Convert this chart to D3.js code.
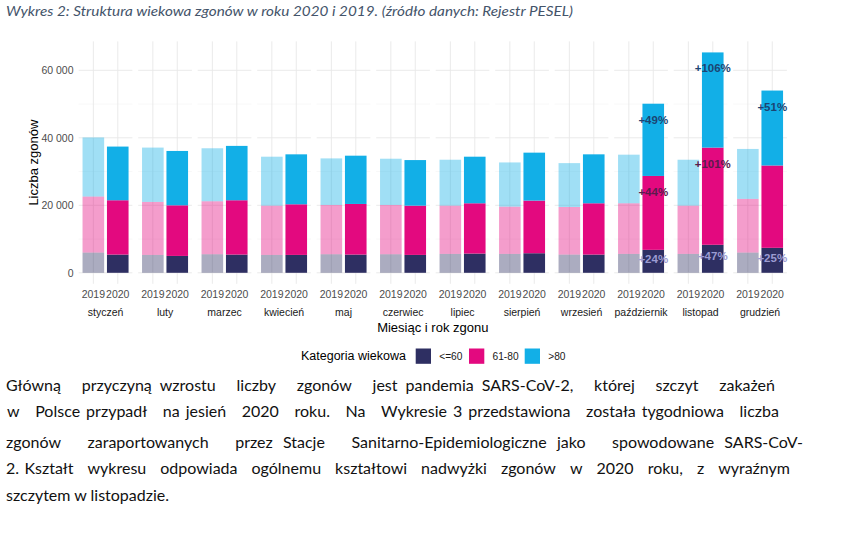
<!DOCTYPE html>
<html><head><meta charset="utf-8">
<script src="https://cdn.jsdelivr.net/npm/d3@7"></script>
<style>
html,body{margin:0;padding:0;background:#fff;}
svg{display:block;}
</style></head>
<body>
<script>
// ---------- DATA ----------
const months = ["styczeń","luty","marzec","kwiecień","maj","czerwiec","lipiec","sierpień","wrzesień","październik","listopad","grudzień"];
const years = ["2019","2020"];
const categories = ["<=60","61-80",">80"];
// deaths per age category
const u60_2019  = [6000,5300,5500,5300,5500,5500,5600,5600,5400,5600,5600,6000];
const m6180_2019= [16600,15700,15700,14600,14600,14600,14300,14000,14100,15000,14300,15900];
const o80_2019  = [17500,16100,15700,14500,13800,13700,13600,13100,13000,14400,13600,14800];
const u60_2020  = [5400,5000,5400,5300,5400,5300,5700,5800,5400,6800,8300,7400];
const m6180_2020= [16100,15000,16100,15000,15000,14600,14900,15600,15200,21900,28800,24400];
const o80_2020  = [15900,16100,16100,14800,14300,13500,13800,14200,14500,21400,28200,22200];
const yTicks = [0,20000,40000,60000];
const yMinor = [10000,30000,50000];
const pctMonths = ["październik","listopad","grudzień"];
const pctCats = [">80","61-80","<=60"];
const pctLabels = [["+49%","+44%","+24%"],["+106%","+101%","+47%"],["+51%","+25%"]];
const pctCatsDec = [">80","<=60"];
const titleText = "Wykres 2: Struktura wiekowa zgonów w roku 2020 i 2019. (źródło danych: Rejestr PESEL)";
const paraLines = [
  ["Główną","przyczyną wzrostu","liczby","zgonów","jest pandemia SARS-CoV-2,","której","szczyt","zakażeń"],
  ["w","Polsce przypadł","na jesień","2020","roku.","Na","Wykresie 3 przedstawiona","została tygodniowa","liczba"],
  ["zgonów","zaraportowanych","przez Stacje","Sanitarno-Epidemiologiczne jako","spowodowane SARS-CoV-"],
  ["2. Kształt","wykresu","odpowiada","ogólnemu","kształtowi","nadwyżki","zgonów","w","2020","roku,","z","wyraźnym"],
  ["szczytem w listopadzie."]
];

// ---------- SETUP ----------
const W=852,H=535;
const svg=d3.select("body").append("svg").attr("width",W).attr("height",H);
const colors = {"<=60":"#2e2f62","61-80":"#e3097f",">80":"#12afe7"};
const labelColors = {"<=60":"#9c9cd2","61-80":"#5a1b4c",">80":"#1b4573"};

const rows=[];
months.forEach((m,i)=>{
  rows.push({month:m,year:"2019","<=60":u60_2019[i],"61-80":m6180_2019[i],">80":o80_2019[i]});
  rows.push({month:m,year:"2020","<=60":u60_2020[i],"61-80":m6180_2020[i],">80":o80_2020[i]});
});
const stacked=d3.stack().keys(categories)(rows);

const y=d3.scaleLinear().domain([0,60000]).range([272.8,70.3]);
const maxTot=d3.max(rows,r=>r["<=60"]+r["61-80"]+r[">80"]);
const yTop=y(maxTot*1.05), yBot=y(-maxTot*0.05);
const xMonth=d3.scaleBand().domain(months).range([78.7,786.9]).paddingInner(0.0975).paddingOuter(0);
const xYear=d3.scalePoint().domain(years).range([0,xMonth.bandwidth()]).padding(0.6);
const barW=xYear.step()*0.885;

// title
svg.append("text").attr("x",6).attr("y",16).attr("font-family","Lato, 'Open Sans', sans-serif")
  .attr("font-style","italic").attr("font-size",13).attr("fill","#44546a")
  .attr("textLength",567).attr("lengthAdjust","spacingAndGlyphs").text(titleText);

// panels
const g=svg.append("g");
months.forEach(m=>{
  const px=xMonth(m), pw=xMonth.bandwidth();
  const pg=g.append("g").attr("transform",`translate(${px},0)`);
  yMinor.forEach(v=>pg.append("line").attr("x1",0).attr("x2",pw).attr("y1",y(v)).attr("y2",y(v)).attr("stroke","#f2f2f2").attr("stroke-width",0.6));
  yTicks.forEach(v=>pg.append("line").attr("x1",0).attr("x2",pw).attr("y1",y(v)).attr("y2",y(v)).attr("stroke","#e8e8e8").attr("stroke-width",0.9));
  years.forEach(yr=>pg.append("line").attr("x1",xYear(yr)).attr("x2",xYear(yr)).attr("y1",yTop).attr("y2",yBot).attr("stroke","#e8e8e8").attr("stroke-width",0.9));
});

// bars
stacked.forEach(layer=>{
  const key=layer.key;
  g.selectAll(null).data(layer).join("rect")
    .attr("x",d=>xMonth(d.data.month)+xYear(d.data.year)-barW/2)
    .attr("width",barW)
    .attr("y",d=>y(d[1]))
    .attr("height",d=>y(d[0])-y(d[1]))
    .attr("fill",colors[key])
    .attr("fill-opacity",d=>d.data.year==="2019"?0.4:1);
});

// percentage labels
const lblData=[];
pctMonths.forEach((m,i)=>{
  const cats = (m==="grudzień")?pctCatsDec:pctCats;
  cats.forEach((c,j)=>lblData.push({month:m,cat:c,text:pctLabels[i][j]}));
});
lblData.forEach(l=>{
  const layer=stacked.find(s=>s.key===l.cat);
  const d=layer.find(e=>e.data.month===l.month&&e.data.year==="2020");
  const ty = l.cat==="<=60" ? (y(d[0])+y(d[1]))/2-2.5 : y(d[1])+16;
  g.append("text").attr("x",xMonth(l.month)+xYear("2020")).attr("y",ty)
    .attr("text-anchor","middle").attr("dominant-baseline","central")
    .attr("font-family","'Liberation Sans', Arial, sans-serif").attr("font-weight","bold")
    .attr("font-size",11.5).attr("fill",labelColors[l.cat]).text(l.text);
});

// y axis
const yAxis=d3.axisLeft(y).tickValues(yTicks).tickSize(0).tickPadding(0)
  .tickFormat(d=>d3.format(",")(d).replace(/,/g," "));
const ya=svg.append("g").attr("transform","translate(73.5,0)").call(yAxis);
ya.select(".domain").remove();
ya.selectAll("text").attr("font-family","'Liberation Sans', Arial, sans-serif").attr("font-size",10.5).attr("fill","#4d4d4d");

// year ticks & month labels
months.forEach(m=>{
  years.forEach(yr=>{
    svg.append("text").attr("x",xMonth(m)+xYear(yr)).attr("y",294).attr("text-anchor","middle")
      .attr("dominant-baseline","central").attr("font-family","'Liberation Sans', Arial, sans-serif")
      .attr("font-size",10.5).attr("fill","#4d4d4d").text(yr);
  });
  svg.append("text").attr("x",xMonth(m)+xMonth.bandwidth()/2).attr("y",311.5).attr("text-anchor","middle")
    .attr("dominant-baseline","central").attr("font-family","'Liberation Sans', Arial, sans-serif")
    .attr("font-size",10.5).attr("fill","#1a1a1a").text(m);
});

// axis titles
svg.append("text").attr("x",(xMonth.range()[0]+xMonth.range()[1])/2).attr("y",327.5).attr("text-anchor","middle")
  .attr("dominant-baseline","central").attr("font-family","'Liberation Sans', Arial, sans-serif")
  .attr("font-size",13).attr("fill","#000").text("Miesiąc i rok zgonu");
svg.append("text").attr("transform",`translate(33,${(yTop+yBot)/2}) rotate(-90)`).attr("text-anchor","middle")
  .attr("dominant-baseline","central").attr("font-family","'Liberation Sans', Arial, sans-serif")
  .attr("font-size",13).attr("fill","#000").text("Liczba zgonów");

// legend
const lg=svg.append("g");
lg.append("text").attr("x",301).attr("y",356).attr("dominant-baseline","central")
  .attr("font-family","'Liberation Sans', Arial, sans-serif").attr("font-size",12.5).attr("fill","#000").text("Kategoria wiekowa");
const legX=[415.7,469,524.7];
categories.forEach((c,i)=>{
  lg.append("rect").attr("x",legX[i]).attr("y",348.5).attr("width",15.3).attr("height",15.3).attr("fill",colors[c]);
  lg.append("text").attr("x",legX[i]+23.5).attr("y",356).attr("dominant-baseline","central")
    .attr("font-family","'Liberation Sans', Arial, sans-serif").attr("font-size",10.2).attr("fill","#1a1a1a").text(c);
});

// paragraph (justified; chunk gaps weigh more than in-chunk spaces)
const pStarts=[6,7,6,6,6], pEnds=[775,779,803,790,null];
const pY=[391,417,448,474,501];
const pFont="Lato, 'Open Sans', sans-serif", pSize=16;
const chunkGapWeight=2.6;
paraLines.forEach((chunks,li)=>{
  const t=svg.append("text").attr("y",pY[li]).attr("font-family",pFont).attr("font-size",pSize).attr("fill","#111");
  if(pEnds[li]===null){
    t.attr("x",pStarts[li]).text(chunks.join(" "));
    return;
  }
  const words=[], weights=[];
  chunks.forEach((c,ci)=>{
    const ws=c.split(" ");
    ws.forEach((w,wi)=>{
      if(words.length>0) weights.push(wi===0?chunkGapWeight:1);
      words.push(w);
    });
  });
  const spans=words.map(w=>t.append("tspan").attr("y",pY[li]).text(w));
  const widths=spans.map(s=>s.node().getComputedTextLength());
  const total=d3.sum(widths);
  const unit=(pEnds[li]-pStarts[li]-total)/d3.sum(weights);
  let x=pStarts[li];
  spans.forEach((s,i)=>{s.attr("x",x); x+=widths[i]+(i<weights.length?weights[i]*unit:0);});
});
</script>
</body></html>
